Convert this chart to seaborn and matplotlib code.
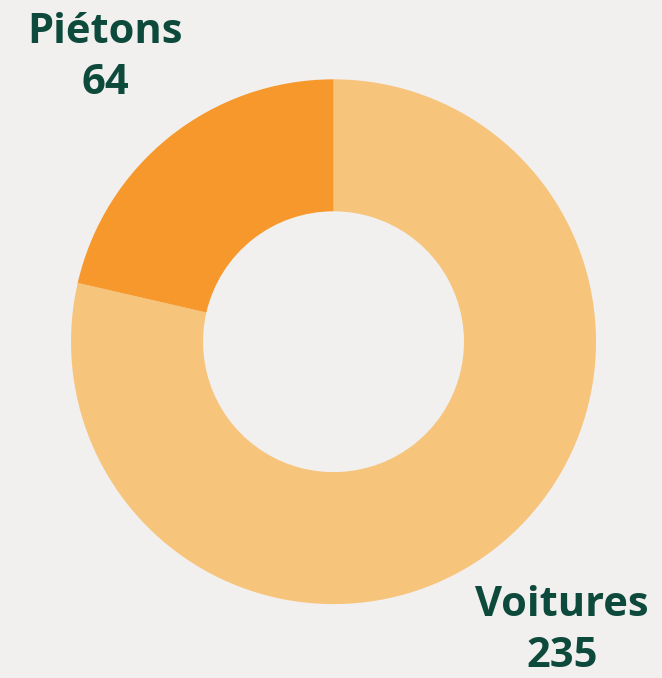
import matplotlib.pyplot as plt
import seaborn as sns

labels = ['Voitures', 'Piétons']
values = [235, 64]
colors = ['#F7C47C', '#F7982C']

bg = '#F1F0EE'
text_color = '#0D4A3B'

sns.set_style('white')
plt.rcParams['font.family'] = ['Open Sans', 'DejaVu Sans']

fig = plt.figure(figsize=(6.62, 6.78), dpi=100, facecolor=bg)
ax = fig.add_axes([0.1073, 0.109, 0.793, 0.774])
ax.set_facecolor(bg)

ax.pie(values, colors=colors, startangle=90, counterclock=False,
       radius=1, wedgeprops=dict(width=0.503, linewidth=0))
ax.set_xlim(-1, 1)
ax.set_ylim(-1, 1)
ax.set_aspect('auto')
ax.axis('off')

# labels
fig.text(105 / 662, 1 - 58 / 678, f'{labels[1]}\n{values[1]}', ha='center', va='center',
         fontsize=30, fontweight='bold', color=text_color, linespacing=1.35)
fig.text(562 / 662, 1 - 631 / 678, f'{labels[0]}\n{values[0]}', ha='center', va='center',
         fontsize=30, fontweight='bold', color=text_color, linespacing=1.35)

fig.savefig('out.png', dpi=100, facecolor=bg)
